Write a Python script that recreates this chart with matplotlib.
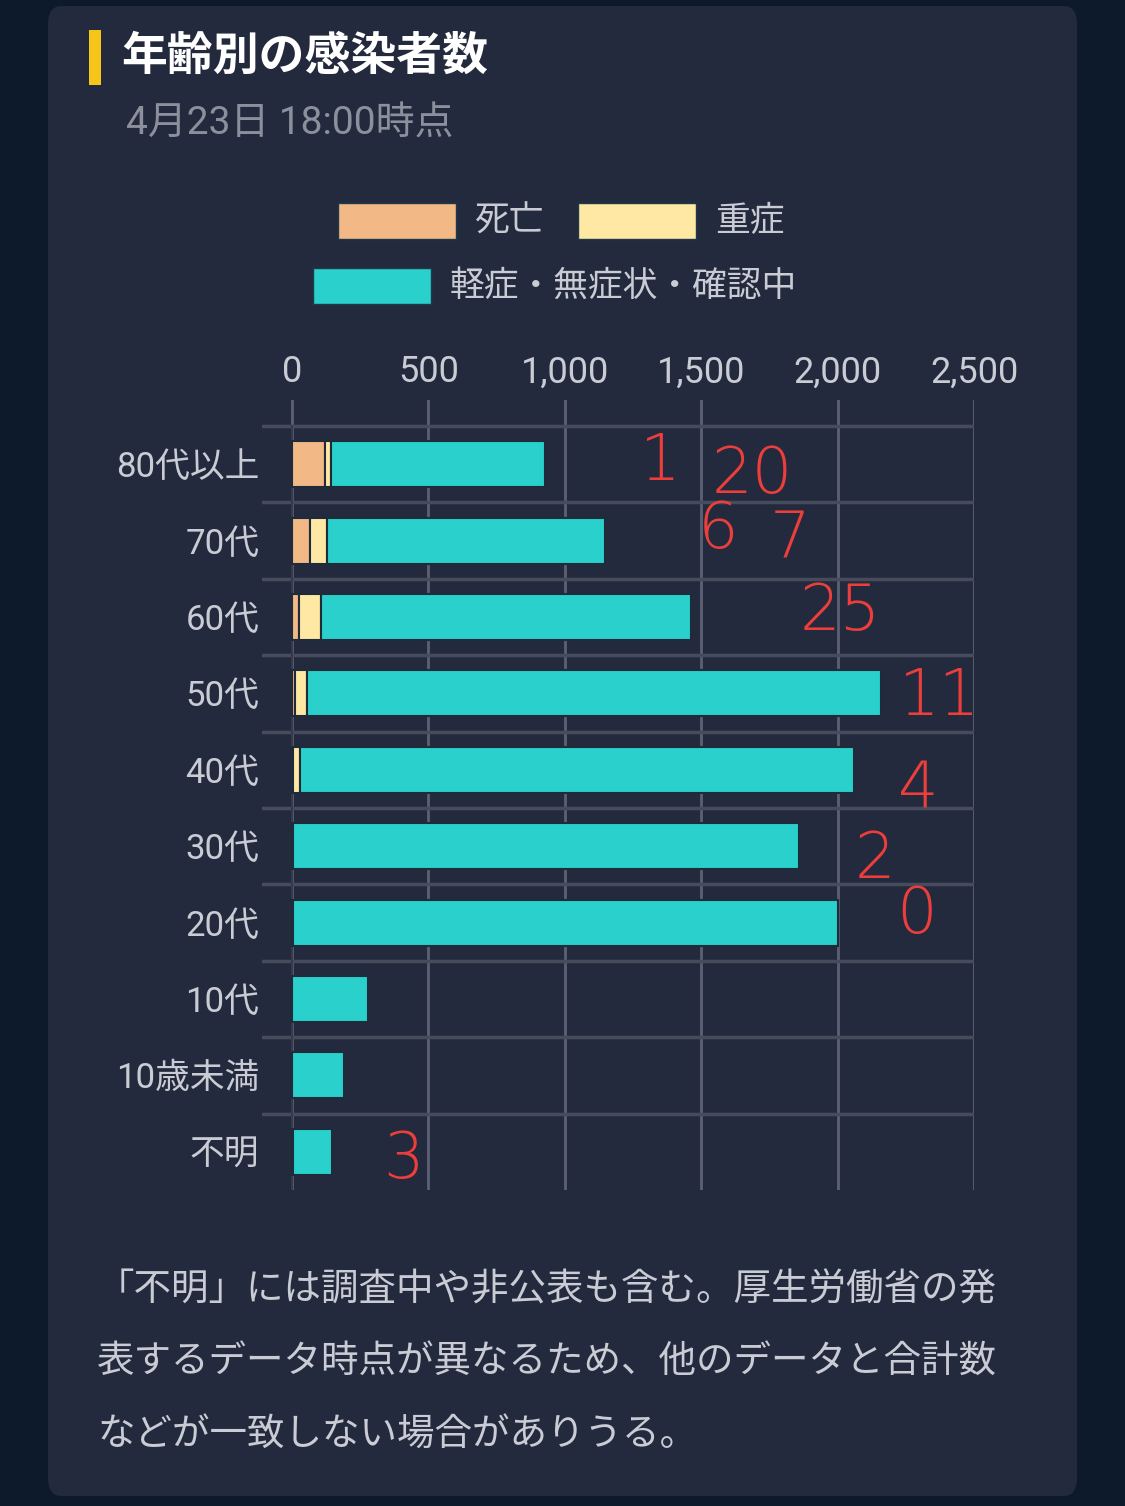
import matplotlib.pyplot as plt
import numpy as np
from matplotlib.patches import FancyBboxPatch, Rectangle

plt.rcParams['font.family'] = ['Roboto', 'Noto Sans CJK JP', 'DejaVu Sans']

categories = ['80代以上', '70代', '60代', '50代', '40代', '30代', '20代', '10代', '10歳未満', '不明']
deaths = [120, 67, 25, 11, 4, 2, 0, 0, 0, 3]
severe = [22, 62, 80, 45, 25, 3, 2, 0, 0, 0]
mild = [785, 1018, 1357, 2102, 2030, 1852, 1998, 278, 190, 144]
series_names = ['死亡', '重症', '軽症・無症状・確認中']
xticks = [0, 500, 1000, 1500, 2000, 2500]

# handwritten notes on the screenshot
notes = ['1', '20', '6', '7', '25', '11', '4', '2', '0', '3']

W, H = 1125, 1506
outer_bg = '#0c1a2b'
card_bg = '#242a3d'
c_death = '#f2b885'
c_severe = '#ffe8a3'
c_mild = '#29d0cc'
txt = '#c9ccd4'
grid_c = '#5c6072'
red = '#ec3e3a'

def fx(px):
    return px / W

def fy(py):
    return 1 - py / H

fig = plt.figure(figsize=(W / 100, H / 100), dpi=100, facecolor=outer_bg)

card = FancyBboxPatch((fx(48), fy(1496)), fx(1077) - fx(48), fy(6) - fy(1496),
                      boxstyle='round,pad=0,rounding_size=0.012',
                      transform=fig.transFigure, facecolor=card_bg, edgecolor='none',
                      zorder=-10)
fig.patches.append(card)

# title block
fig.patches.append(Rectangle((fx(89), fy(85)), fx(12), fy(30) - fy(85),
                             transform=fig.transFigure, facecolor='#f5c518',
                             edgecolor='none', zorder=-5))
fig.text(fx(121), fy(57), '年齢別の感染者数', color='white', fontsize=33,
         fontweight='bold', va='center', ha='left')
fig.text(fx(126), fy(124), '4月23日 18:00時点', color='#8b909c', fontsize=28,
         va='center', ha='left')

# legend
legend_items = [(c_death, 338, 221, series_names[0]),
                (c_severe, 578, 221, series_names[1]),
                (c_mild, 313, 286, series_names[2])]
for col, x0, yc, name in legend_items:
    fig.patches.append(Rectangle((fx(x0), fy(yc + 18)), fx(118), fy(yc - 18) - fy(yc + 18),
                                 transform=fig.transFigure, facecolor=col,
                                 edgecolor='#1d3a48', linewidth=1, zorder=-5))
    fig.text(fx(x0 + 137), fy(yc), name, color=txt, fontsize=25, va='center', ha='left')

# chart
ax = fig.add_axes([fx(262), fy(1190), fx(974) - fx(262), fy(400) - fy(1190)])
ax.set_facecolor('none')
y = np.arange(len(categories))
d = np.array(deaths)
s = np.array(severe)
m = np.array(mild)
kw = dict(height=0.6, edgecolor='#1e2b3a', linewidth=1.5, zorder=3)
ax.barh(y, d, color=c_death, **kw)
ax.barh(y, s, left=d, color=c_severe, **kw)
ax.barh(y, m, left=d + s, color=c_mild, **kw)

ax.set_xlim(-110, 2500)
ax.set_ylim(9.5, -0.84)
ax.set_xticks(xticks)
ax.set_xticklabels([f'{v:,}' for v in xticks])
ax.xaxis.tick_top()
ax.set_yticks(y)
ax.set_yticklabels(categories)
ax.set_yticks(np.arange(-0.5, 9, 1), minor=True)
ax.tick_params(axis='x', length=0, pad=7, labelsize=26, labelcolor=txt)
ax.tick_params(axis='y', which='both', length=0, pad=2, labelsize=25, labelcolor=txt)
ax.grid(axis='x', color=grid_c, linewidth=2, zorder=0)
ax.grid(axis='y', which='minor', color='#474c5d', linewidth=2.5, zorder=1)
ax.axvline(0, ymin=0, ymax=(9.5 + 0.5) / (9.5 + 0.84), color='#363b4c', linewidth=1.5, zorder=2)
for sp in ax.spines.values():
    sp.set_visible(False)

# footer
footer = ['「不明」には調査中や非公表も含む。厚生労働省の発',
          '表するデータ時点が異なるため、他のデータと合計数',
          'などが一致しない場合がありうる。']
for i, line in enumerate(footer):
    fig.text(fx(97), fy(1290 + 72.5 * i), line, color=txt, fontsize=27,
             va='center', ha='left')

# red handwritten notes
note_pos = [(660, 462), (752, 475), (718, 530), (790, 540), (840, 612),
            (940, 697), (918, 790), (875, 860), (917, 915), (403, 1160)]
for t, (px, py) in zip(notes, note_pos):
    fig.text(fx(px), fy(py), t, color=red, fontsize=46, fontweight='light',
             family=['DejaVu Sans'], va='center', ha='center')

fig.savefig('out.png', dpi=100, facecolor=outer_bg)
